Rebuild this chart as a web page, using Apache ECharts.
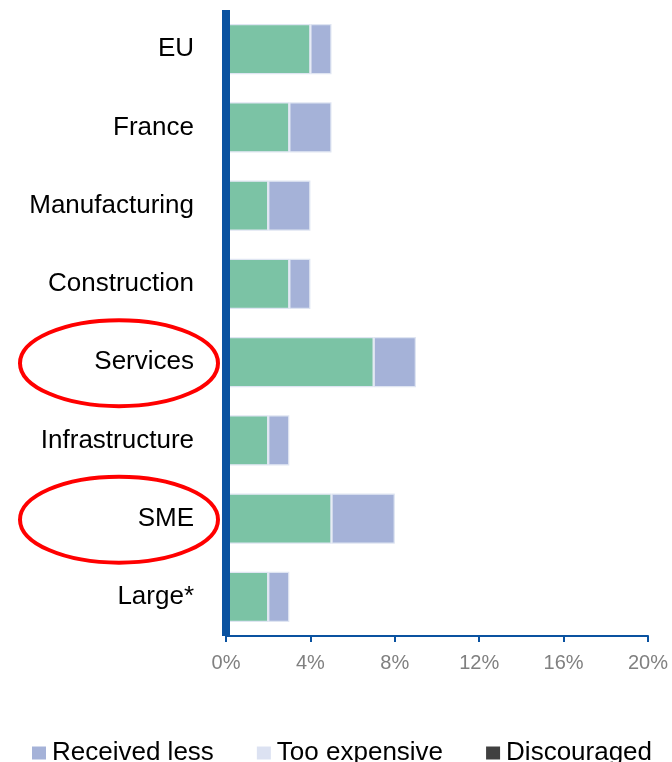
<!DOCTYPE html>
<html>
<head>
<meta charset="utf-8">
<script src="https://cdn.jsdelivr.net/npm/echarts@6/dist/echarts.min.js"></script>
<style>
  html, body { margin: 0; padding: 0; background: #fff; }
  #chart { width: 672px; height: 762px; }
</style>
</head>
<body>
<div id="chart"></div>
<script>
// Share of firms by financing obstacle (%), by group
const categories = ['EU', 'France', 'Manufacturing', 'Construction', 'Services', 'Infrastructure', 'SME', 'Large*'];
const rejected = [4, 3, 2, 3, 7, 2, 5, 2];
const receivedLess = [1, 2, 2, 1, 2, 1, 3, 1];
const tooExpensive = [0, 0, 0, 0, 0, 0, 0, 0];
const discouraged = [0, 0, 0, 0, 0, 0, 0, 0];
const xTicks = [0, 4, 8, 12, 16, 20];
const highlighted = ['Services', 'SME'];

const axisBlue = '#0A52A0';
const font = 'Liberation Sans, Arial, sans-serif';

const chart = echarts.init(document.getElementById('chart'), null, { renderer: 'canvas' });

const barBorder = { borderColor: '#dfe5f2', borderWidth: 1.2 };

chart.setOption({
  animation: false,
  grid: { left: 226, right: 24, top: 10, bottom: 126 },
  legend: {
    data: ['Received less', 'Too expensive', 'Discouraged'],
    left: 32,
    top: 740,
    padding: 0,
    icon: 'rect',
    itemWidth: 14,
    itemHeight: 13,
    itemGap: 43,
    itemStyle: { borderWidth: 0 },
    textStyle: { fontFamily: font, fontSize: 26, color: '#000', padding: [0, 0, 0, 1] }
  },
  xAxis: {
    type: 'value',
    min: xTicks[0],
    max: xTicks[xTicks.length - 1],
    interval: xTicks[1] - xTicks[0],
    axisLine: { show: true, lineStyle: { color: axisBlue, width: 2 } },
    axisTick: { show: true, length: 6, lineStyle: { color: axisBlue, width: 2 } },
    splitLine: { show: false },
    axisLabel: {
      formatter: v => v + '%',
      fontFamily: font, fontSize: 20, color: '#808080', margin: 17
    }
  },
  yAxis: {
    type: 'category',
    data: categories,
    inverse: true,
    z: 5,
    axisLine: { show: true, lineStyle: { color: axisBlue, width: 8, cap: 'butt' } },
    axisTick: { show: false },
    axisLabel: { fontFamily: font, fontSize: 26, color: '#000', margin: 32 }
  },
  series: [
    { name: 'Rejected', type: 'bar', stack: 'total', barWidth: '64%', data: rejected,
      itemStyle: Object.assign({ color: '#7BC3A5' }, barBorder) },
    { name: 'Received less', type: 'bar', stack: 'total', data: receivedLess,
      itemStyle: Object.assign({ color: '#A5B2D8' }, barBorder) },
    { name: 'Too expensive', type: 'bar', stack: 'total', data: tooExpensive,
      itemStyle: { color: '#DCE2F2', borderWidth: 0 } },
    { name: 'Discouraged', type: 'bar', stack: 'total', data: discouraged,
      itemStyle: { color: '#404040', borderWidth: 0 } }
  ]
});

// Red ellipses around the highlighted category labels
const gridLeft = 226;
chart.setOption({
  graphic: highlighted.map(name => {
    const cy = chart.convertToPixel({ yAxisIndex: 0 }, name);
    return {
      type: 'ellipse',
      shape: { cx: gridLeft - 107, cy: cy + 1, rx: 99, ry: 43 },
      style: { fill: null, stroke: '#FF0000', lineWidth: 4 },
      z: 10
    };
  })
});
</script>
</body>
</html>
